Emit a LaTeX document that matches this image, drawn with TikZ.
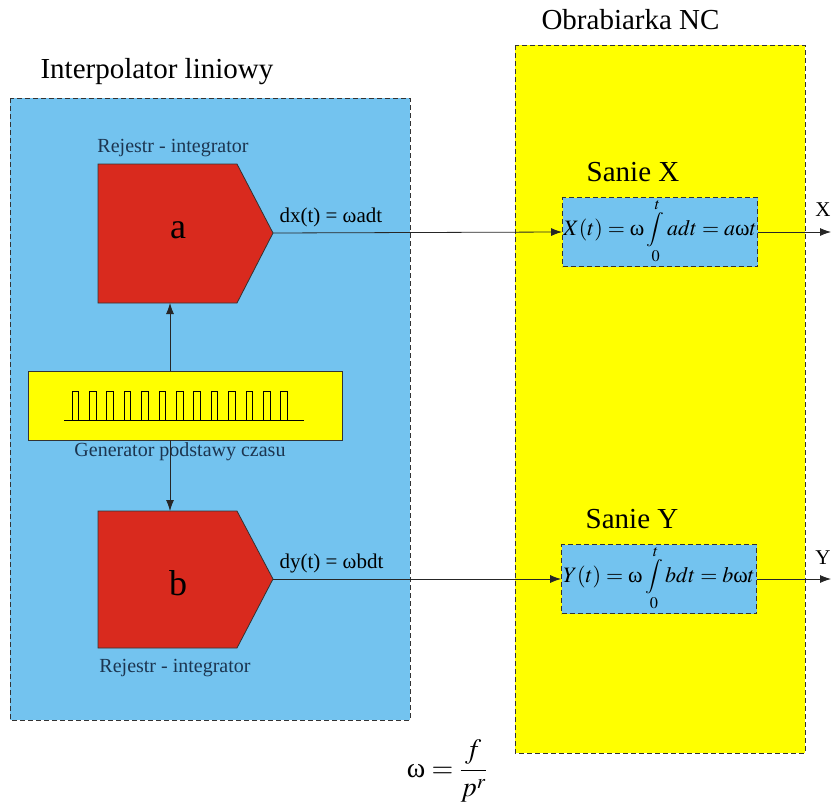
\documentclass[tikz,border=0pt]{standalone}
\usepackage{mathptmx}
\usepackage{fontspec}
\setmainfont{Liberation Serif}
\usetikzlibrary{arrows.meta, positioning, calc}
\definecolor{ipblue}{HTML}{73C3EF}
\definecolor{ncyellow}{HTML}{FFFF00}
\definecolor{regred}{HTML}{D92A1E}
\definecolor{labelnavy}{HTML}{1C3550}
\newcommand{\om}{\mbox{ω}}
% integral with its limits tucked in at the ends of the sign
\newcommand{\tint}[2]{\mathop{\vcenter{\hbox{\scalebox{0.9}[0.78]{$\displaystyle\int$}}}}\limits_{\raisebox{6pt}[0pt][0pt]{$\scriptstyle #1$}}^{\raisebox{-9pt}[0pt][0pt]{$\scriptstyle\;#2$}}}

\begin{document}
\begin{tikzpicture}[x=1pt, y=-1pt,
    frame/.style={draw=black!80, dash pattern=on 5pt off 3pt, line width=0.8pt},
    slide/.style={rectangle, draw=black!80, dash pattern=on 5pt off 3pt, line width=0.8pt, fill=ipblue, minimum width=195pt, minimum height=69pt, text height=8pt, text depth=2pt, inner sep=0pt, font=\fontsize{22}{26}\selectfont},
    register/.style={fill=regred, draw=black!80, line width=0.8pt},
    arrow/.style={-{Latex[length=11pt,width=8pt]}, line width=0.8pt, color=black!85},
    caption/.style={font=\fontsize{29}{34}\selectfont},
    small/.style={font=\fontsize{20}{24}\selectfont, color=labelnavy},
    signal/.style={font=\fontsize{21}{25}\selectfont}
]
\useasboundingbox (0,0) rectangle (831,811);

% Frames
\filldraw[frame, fill=ipblue] (10,98) rectangle (410,720);
\filldraw[frame, fill=ncyellow] (515,45) rectangle (805,753);
\node[caption, anchor=west] (interp) at (37,72) {Interpolator liniowy};
\node[caption, anchor=west] (nc) at (538,20) {Obrabiarka NC};

% Registers
\filldraw[register] (98,164) -- (237,164) -- (273,233) -- (237,303) -- (98,303) -- cycle;
\coordinate (rega-tip) at (273,233);
\coordinate (rega-bot) at (170,303);
\node[font=\fontsize{36}{40}\selectfont] (rega) at (178,230) {a};
\node[small] (rega-lbl) at (173,148) {Rejestr - integrator};

\filldraw[register] (98,511) -- (237,511) -- (273,579) -- (237,648) -- (98,648) -- cycle;
\coordinate (regb-tip) at (273,579);
\coordinate (regb-top) at (170,511);
\node[font=\fontsize{36}{40}\selectfont] (regb) at (178,583) {b};
\node[small] (regb-lbl) at (175,668) {Rejestr - integrator};

% Time base generator
\node[rectangle, draw=black!80, line width=0.8pt, fill=ncyellow, minimum width=314pt, minimum height=69pt] (gen) at (185,405.5) {};
\draw[line width=0.7pt] (64,420) -- (304,420);
\foreach \i in {0,...,12}
    \draw[line width=0.7pt] ({72+17.4*\i},420) -- ({72+17.4*\i},391) -- ({78.5+17.4*\i},391) -- ({78.5+17.4*\i},420);
\node[small] (gen-lbl) at (180,452) {Generator podstawy czasu};

% Slides
\node[slide] (sx) at (660,232) {$X(t)=\om\tint{0}{t} adt = a\om t$};
\node[slide] (sy) at (659,579) {$Y(t)=\om\tint{0}{t} bdt = b\om t$};
\node[caption, above=12pt of sx, xshift=-27pt] (sx-lbl) {Sanie X};
\node[caption, above=12pt of sy, xshift=-27pt] (sy-lbl) {Sanie Y};
\coordinate (outx) at (831,232);
\coordinate (outy) at (831,579);

% Arrows
\draw[arrow] (gen.north -| rega-bot) -- (rega-bot);
\draw[arrow] (gen.south -| regb-top) -- (regb-top);
\draw[arrow] (rega-tip) -- (sx.west);
\draw[arrow] (regb-tip) -- (sy.west);
\draw[arrow] (sx.east) -- (outx);
\draw[arrow] (sy.east) -- (outy);

% Signal labels
\node[signal, anchor=south west] (dx) at (276,231) {dx(t) = \om adt};
\node[signal, anchor=south west] (dy) at (276,577) {dy(t) = \om bdt};
\node[signal] (xout) at (823,210) {X};
\node[signal] (yout) at (823,558) {Y};

% Clock frequency
\node[font=\fontsize{28}{32}\selectfont] (omega) at (447,771) {$\om = \displaystyle\frac{f}{p^{r}}$};

\end{tikzpicture}
\end{document}
